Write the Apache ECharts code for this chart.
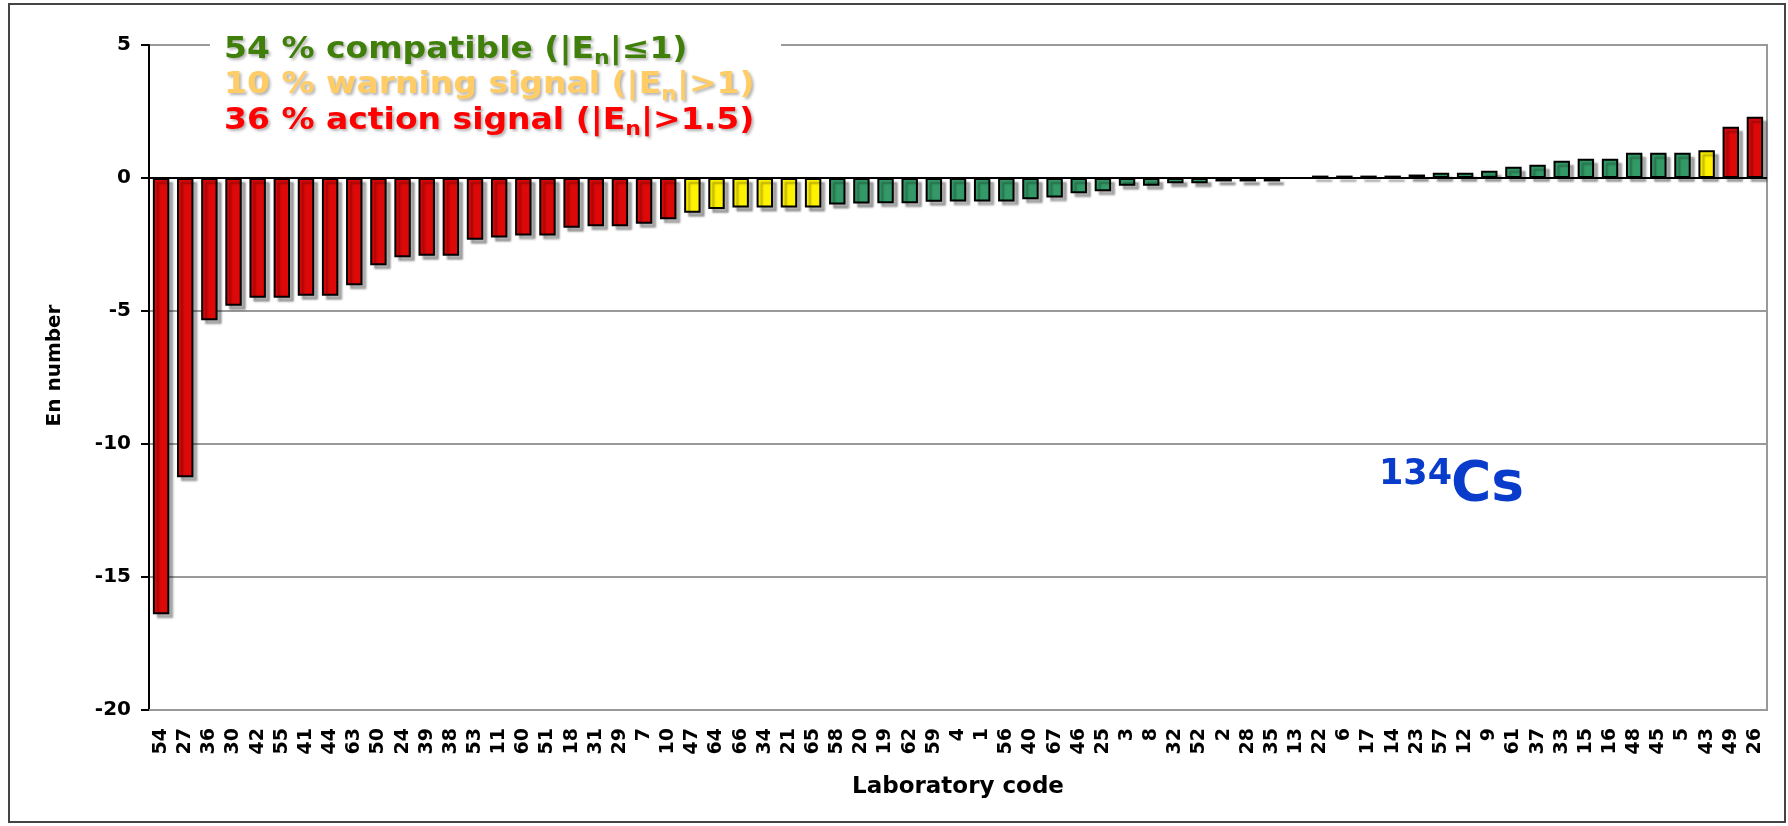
<!DOCTYPE html>
<html>
<head>
<meta charset="utf-8">
<script src="https://cdn.jsdelivr.net/npm/echarts@6/dist/echarts.min.js"></script>
<style>
  html, body { margin: 0; padding: 0; background: #fff; }
  #chart { width: 1788px; height: 826px; }
</style>
</head>
<body>
<div id="chart"></div>
<script>
// laboratory codes, sorted by En number
const labCodes = ['54','27','36','30','42','55','41','44','63','50','24','39','38','53','11','60','51','18','31','29','7','10',
  '47','64','66','34','21','65','58','20','19','62','59','4','1','56','40','67','46','25','3','8','32','52','2','28','35','13',
  '22','6','17','14','23','57','12','9','61','37','33','15','16','48','45','5','43','49','26']

// En numbers (13 has no bar)
const enValues = [-16.4, -11.25, -5.35, -4.8, -4.5, -4.5, -4.43, -4.43, -4.03, -3.28, -2.98, -2.92, -2.92, -2.32, -2.24, -2.16, -2.16, -1.87, -1.81, -1.81, -1.72, -1.55,
  -1.31, -1.17, -1.11, -1.11, -1.11, -1.11, -1.0, -0.96, -0.95, -0.95, -0.89, -0.88, -0.88, -0.88, -0.8, -0.73, -0.57, -0.5, -0.29, -0.29, -0.2, -0.2, -0.13, -0.13, -0.13, null,
  0.09, 0.09, 0.09, 0.09, 0.13, 0.2, 0.2, 0.27, 0.42, 0.5, 0.65, 0.72, 0.72, 0.95, 0.95, 0.95, 1.04, 1.93, 2.3]

const yTicks = [5, 0, -5, -10, -15, -20]

const legendLines = [
  { text: '54 % compatible (|E{s|n}|≤1)', color: '#3f7f0a' },
  { text: '10 % warning signal (|E{s|n}|>1)', color: '#ffcc66' },
  { text: '36 % action signal (|E{s|n}|>1.5)', color: '#ff0000' }
]

const RED = '#dd0808'
const YELLOW = '#fff200'
const GREEN = '#339966'

const barColor = (v) => {
  const a = Math.abs(v)
  if (a > 1.5) return RED
  if (a > 1) return YELLOW
  return GREEN
}

const chart = echarts.init(document.getElementById('chart'))

const legendGraphics = legendLines.map((line, i) => ({
  type: 'text',
  x: 224,
  y: 50 + i * 35.5,
  scaleX: 1.1,
  z: 102,
  style: {
    text: line.text,
    fill: line.color,
    font: 'bold 30px "DejaVu Sans"',
    lineHeight: 35,
    verticalAlign: 'middle',
    textShadowColor: 'rgba(0,0,0,0.3)',
    textShadowBlur: 3,
    textShadowOffsetX: 2,
    textShadowOffsetY: 2,
    rich: {
      s: {
        fontSize: 20,
        fontWeight: 'bold',
        fontFamily: 'DejaVu Sans',
        lineHeight: 21,
        padding: [18, 0, 0, 0],
        fill: line.color
      }
    }
  }
}))

const option = {
  animation: false,
  backgroundColor: '#fff',
  grid: {
    left: 149,
    right: 21,
    top: 45,
    bottom: 116,
    show: true,
    borderColor: '#999',
    borderWidth: 2
  },
  xAxis: {
    type: 'category',
    data: labCodes,
    name: 'Laboratory code',
    nameLocation: 'middle',
    nameGap: 66,
    nameTextStyle: { fontFamily: 'DejaVu Sans', fontWeight: 'bold', fontSize: 23, color: '#000' },
    axisLine: { onZero: false, lineStyle: { color: '#999', width: 2 } },
    axisTick: { show: false },
    axisLabel: {
      interval: 0,
      rotate: 90,
      margin: 18,
      fontFamily: 'DejaVu Sans',
      fontWeight: 'bold',
      fontSize: 19,
      color: '#000'
    }
  },
  yAxis: {
    type: 'value',
    min: -20,
    max: 5,
    interval: 5,
    name: 'En number',
    nameLocation: 'middle',
    nameGap: 84,
    nameTextStyle: { fontFamily: 'DejaVu Sans', fontWeight: 'bold', fontSize: 20, color: '#000', padding: [0, 0, 0, 24] },
    axisLine: { show: true, lineStyle: { color: '#000', width: 2 } },
    axisTick: { show: true, length: 8, lineStyle: { color: '#000', width: 2 } },
    axisLabel: {
      margin: 18,
      fontFamily: 'DejaVu Sans',
      fontWeight: 'bold',
      fontSize: 20,
      color: '#000',
      formatter: (v) => (yTicks.includes(v) ? String(v) : '')
    },
    splitLine: { show: true, lineStyle: { color: '#999', width: 2 } }
  },
  series: [
    {
      type: 'bar',
      data: enValues,
      barCategoryGap: '32%',
      itemStyle: {
        color: (p) => barColor(p.value),
        borderColor: '#000',
        borderWidth: 2,
        shadowColor: 'rgba(0,0,0,0.3)',
        shadowBlur: 2,
        shadowOffsetX: 4,
        shadowOffsetY: 4
      },
      markLine: {
        silent: true,
        symbol: ['none', 'none'],
        label: { show: false },
        lineStyle: { color: '#000', width: 2, type: 'solid' },
        data: [{ yAxis: 0 }]
      }
    }
  ],
  graphic: [
    // outer frame
    {
      type: 'rect',
      z: 100,
      shape: { x: 9, y: 4, width: 1776, height: 818 },
      style: { fill: null, stroke: '#444', lineWidth: 2 }
    },
    // white box behind the legend text
    {
      type: 'rect',
      z: 101,
      shape: { x: 210, y: 36, width: 571, height: 18 },
      style: { fill: '#fff' }
    },
    ...legendGraphics,
    {
      type: 'text',
      z: 102,
      x: 1379,
      y: 474.5,
      style: {
        text: '134',
        fill: '#0a3ccc',
        font: 'bold 35px "DejaVu Sans"',
        verticalAlign: 'middle'
      }
    },
    {
      type: 'text',
      z: 102,
      x: 1451,
      y: 485.5,
      style: {
        text: 'Cs',
        fill: '#0a3ccc',
        font: 'bold 55px "DejaVu Sans"',
        verticalAlign: 'middle'
      }
    }
  ]
}

chart.setOption(option)
</script>
</body>
</html>
